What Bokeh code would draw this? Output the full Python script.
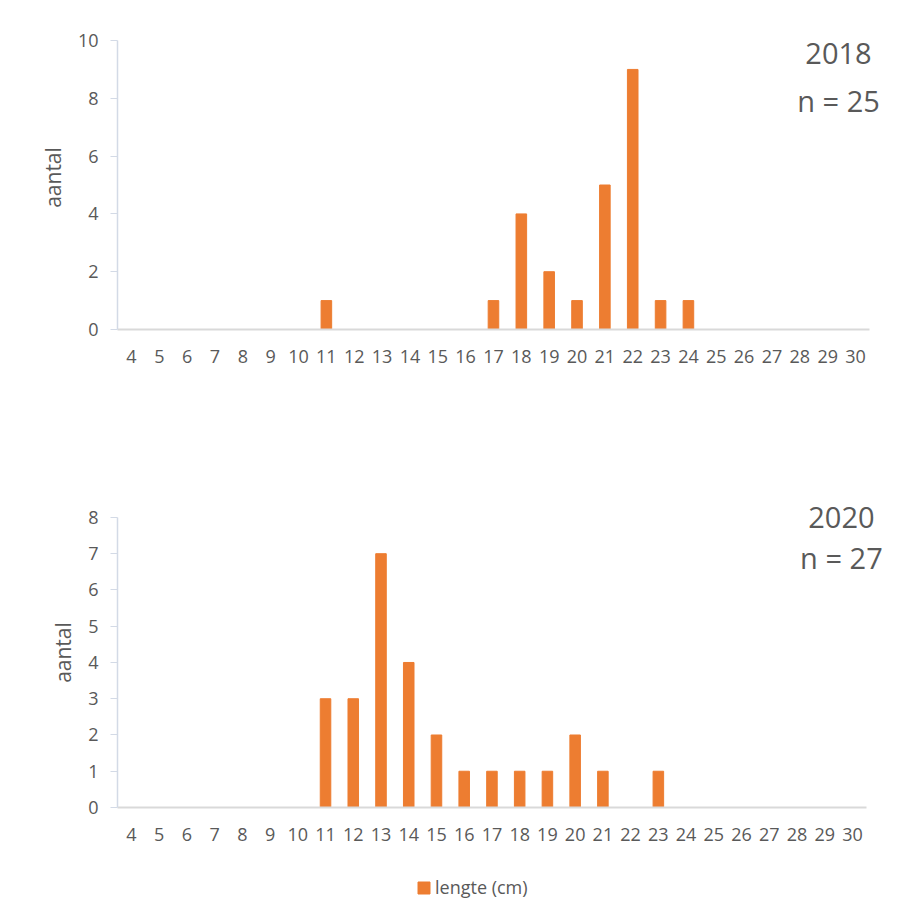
from bokeh.plotting import figure
from bokeh.models import Range1d, FixedTicker, Label, Legend, LegendItem, ColumnDataSource
from bokeh.layouts import column
from bokeh.embed import file_html
from bokeh.resources import INLINE

# ---- data ----
lengths = list(range(4, 31))
tick_labels = [str(v) for v in lengths]
counts_2018 = [0, 0, 0, 0, 0, 0, 0, 1, 0, 0, 0, 0, 0, 1, 4, 2, 1, 5, 9, 1, 1, 0, 0, 0, 0, 0, 0]
counts_2020 = [0, 0, 0, 0, 0, 0, 0, 3, 3, 7, 4, 2, 1, 1, 1, 1, 2, 1, 0, 1, 0, 0, 0, 0, 0, 0, 0]
year_2018 = "2018"
year_2020 = "2020"
n_2018 = "n = 25"
n_2020 = "n = 27"
series_name = "lengte (cm)"
y_label = "aantal"

BAR = "#ED7D31"
TXT = "#595959"
FONT = "Open Sans"
W = 908


def make_fig(counts, ymax, yend, xend, height, border_top, border_bottom):
    p = figure(width=W, height=height, output_backend="svg", toolbar_location=None,
               x_range=Range1d(3.5, xend), y_range=Range1d(0, yend),
               min_border_left=117, min_border_right=8,
               min_border_top=border_top, min_border_bottom=border_bottom)
    p.outline_line_color = None
    p.xgrid.grid_line_color = None
    p.ygrid.grid_line_color = None
    src = ColumnDataSource(dict(x=lengths, top=counts))
    r = p.vbar(x="x", top="top", width=0.38, source=src, color=BAR)
    p.xaxis.ticker = FixedTicker(ticks=lengths)
    p.xaxis.bounds = (3.5, 30.5)
    p.yaxis.bounds = (0, ymax)
    p.xaxis.major_label_overrides = {v: s for v, s in zip(lengths, tick_labels)}
    p.yaxis.ticker = FixedTicker(ticks=list(range(0, ymax + 1, 2 if ymax == 10 else 1)))
    for ax in (p.xaxis[0], p.yaxis[0]):
        ax.major_label_text_font = FONT
        ax.major_label_text_font_size = "18px"
        ax.major_label_text_color = TXT
        ax.minor_tick_line_color = None
    p.xaxis.axis_line_color = "#D9D9D9"
    p.xaxis.axis_line_width = 2
    p.xaxis.major_tick_line_color = None
    p.xaxis.major_label_standoff = 14
    p.yaxis.axis_line_color = "#D3DAE6"
    p.yaxis.axis_line_width = 1.5
    p.yaxis.major_tick_line_color = "#D3DAE6"
    p.yaxis.major_tick_out = 7
    p.yaxis.major_tick_in = 0
    p.yaxis.major_label_standoff = 12
    p.yaxis.axis_label = y_label
    p.yaxis.axis_label_text_font = FONT
    p.yaxis.axis_label_text_font_size = "21px"
    p.yaxis.axis_label_text_font_style = "normal"
    p.yaxis.axis_label_text_color = TXT
    p.yaxis.axis_label_standoff = 8
    return p, r


def add_note(p, x, y, text):
    p.add_layout(Label(x=x, y=y, text=text, text_align="center", text_baseline="middle",
                       text_font=FONT, text_font_size="29px", text_color=TXT))


p1, r1 = make_fig(counts_2018, 10, 10.52, 31.615, 445, 25, 116)
add_note(p1, 29.39, 9.55, year_2018)
add_note(p1, 29.39, 7.92, n_2018)

p2, r2 = make_fig(counts_2020, 8, 8.55, 31.73, 415, 52, 53)
add_note(p2, 29.6, 8.0, year_2020)
add_note(p2, 29.6, 6.9, n_2020)

# legend strip below the second chart (its renderer is hidden; only the key is shown)
pl = figure(width=W, height=44, output_backend="svg", toolbar_location=None,
            x_axis_type=None, y_axis_type=None,
            min_border_left=0, min_border_right=0, min_border_top=0, min_border_bottom=0)
pl.outline_line_color = None
pl.xgrid.grid_line_color = None
pl.ygrid.grid_line_color = None
key_src = ColumnDataSource(dict(x=lengths, top=counts_2020))
key = pl.vbar(x="x", top="top", width=0.38, source=key_src, color=BAR, visible=False)
legend = Legend(items=[LegendItem(label=series_name, renderers=[key])],
                location=(299, 5), orientation="horizontal",
                label_text_font=FONT, label_text_font_size="18px", label_text_color=TXT,
                glyph_width=15, glyph_height=15, label_standoff=4,
                border_line_color=None, background_fill_alpha=0,
                inactive_fill_alpha=0,
                padding=2, margin=0)
pl.add_layout(legend, "center")

layout = column(p1, p2, pl, spacing=0)
open("out.html", "w").write(file_html(layout, INLINE))
